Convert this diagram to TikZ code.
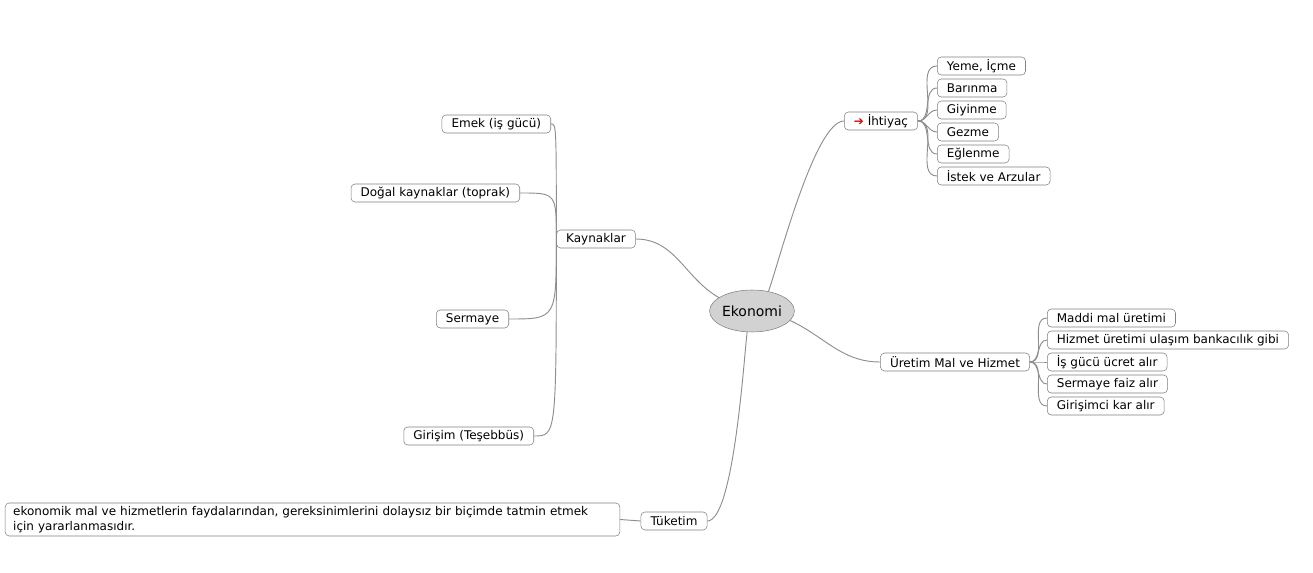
\documentclass[tikz,border=0pt]{standalone}
\usepackage{fontspec}
\setmainfont{DejaVu Sans}
\usetikzlibrary{positioning,shapes.geometric}
\definecolor{MapLine}{HTML}{8E8E8E}
\definecolor{MapBorder}{HTML}{808080}
\definecolor{MapCore}{HTML}{D2D2D2}
\definecolor{MapRed}{HTML}{CC1010}
\tikzset{
  topicbox/.style={draw=MapBorder,rounded corners=3pt,minimum height=13.5pt,inner xsep=7.2pt,inner ysep=0pt,font=\fontsize{9pt}{10pt}\selectfont,fill=white},
  corenode/.style={ellipse,draw=MapBorder,fill=MapCore,minimum width=58.5pt,minimum height=31.5pt,inner sep=0pt,font=\fontsize{10.5pt}{12pt}\selectfont},
  notebox/.style={topicbox,align=left,minimum height=24.75pt,minimum width=461pt,text width=449pt,inner xsep=5.5pt,inner ysep=1pt,font=\fontsize{9pt}{11.2pt}\selectfont},
  branchline/.style={draw=MapLine,line width=0.7pt}
}

\begin{document}
\begin{tikzpicture}[x=0.75pt,y=-0.75pt]
\useasboundingbox (0,0) rectangle (1313,573);
% center
\node[corenode] (ekonomi) at (752,311) {Ekonomi};
% main branches
\node[topicbox] (kaynak) at (596,239) {Kaynaklar};
\node[topicbox] (ihtiyac) at (881,121) {\textcolor{MapRed}{➔} İhtiyaç};
\node[topicbox] (uretim) at (955,362) {Üretim Mal ve Hizmet};
\node[topicbox] (tuketim) at (674,521) {Tüketim};
\node[notebox] (tanim) at (312.5,519.5) {ekonomik mal ve hizmetlerin faydalarından, gereksinimlerini dolaysız bir biçimde tatmin etmek\\için yararlanmasıdır.};
% needs
\node[topicbox,anchor=west] (yeme) at (937,66) {Yeme, İçme};
\node[topicbox,anchor=west] (barinma) at (937,88) {Barınma};
\node[topicbox,anchor=west] (giyinme) at (937,110) {Giyinme};
\node[topicbox,anchor=west] (gezme) at (937,132) {Gezme};
\node[topicbox,anchor=west] (eglenme) at (937,154) {Eğlenme};
\node[topicbox,anchor=west] (istek) at (937,176) {İstek ve Arzular};
% production
\node[topicbox,anchor=west] (maddi) at (1047,318) {Maddi mal üretimi};
\node[topicbox,anchor=west] (hizmet) at (1047,340) {Hizmet üretimi ulaşım bankacılık gibi};
\node[topicbox,anchor=west] (isgucu) at (1047,362) {İş gücü ücret alır};
\node[topicbox,anchor=west] (faiz) at (1047,384) {Sermaye faiz alır};
\node[topicbox,anchor=west] (kar) at (1047,406) {Girişimci kar alır};
% resources
\node[topicbox,anchor=east] (emek) at (551,124) {Emek (iş gücü)};
\node[topicbox,anchor=east] (dogal) at (520,193) {Doğal kaynaklar (toprak)};
\node[topicbox,anchor=east] (sermaye) at (509,319) {Sermaye};
\node[topicbox,anchor=east] (girisim) at (534,436) {Girişim (Teşebbüs)};

% connectors
\draw[branchline] (ekonomi.158) to[out=150,in=0] (kaynak.east);
\draw[branchline] (ekonomi.50) to[out=70,in=180,looseness=0.4] (ihtiyac.west);
\draw[branchline] (ekonomi.-14) to[out=-25,in=180] (uretim.west);
\draw[branchline] (ekonomi.-103) to[out=-97,in=0,looseness=0.35] (tuketim.east);
\draw[branchline] (tuketim.west) -- (tanim.east);
\foreach \kid in {yeme,barinma,giyinme,gezme,eglenme,istek}
  \draw[branchline] (ihtiyac.east) to[out=0,in=180] (\kid.west);
\foreach \kid in {maddi,hizmet,isgucu,faiz,kar}
  \draw[branchline] (uretim.east) to[out=0,in=180] (\kid.west);
\foreach \kid in {emek,dogal,sermaye,girisim}
  \draw[branchline] (kaynak.west) .. controls (kaynak.west |- \kid.east) .. (\kid.east);
\end{tikzpicture}
\end{document}
